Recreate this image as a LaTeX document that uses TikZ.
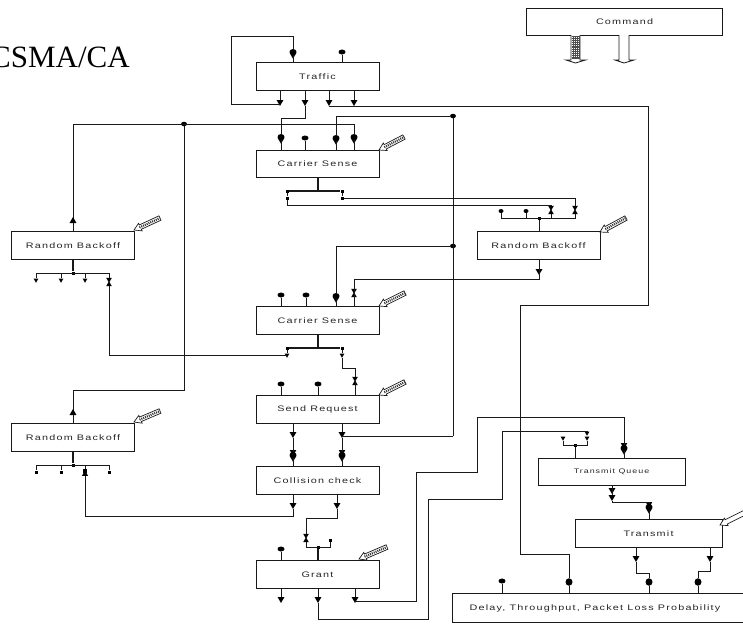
\documentclass[tikz,border=0pt]{standalone}
\usepackage{fontspec}
\usetikzlibrary{shapes.geometric,calc}
\newfontfamily\lblfont[LetterSpace=15,FakeStretch=1.35]{Liberation Sans}
\newfontfamily\ttlfont{Liberation Serif}
\definecolor{ln}{gray}{0.1}
\tikzset{
  wire/.style={draw=ln,line width=1pt},
  thickwire/.style={draw=ln,line width=2pt},
  boxm/.style={draw=ln,line width=1pt,fill=white,inner sep=0,font=\lblfont\fontsize{8}{8}\selectfont,text=black!85},
  wide/.style={boxm,minimum width=123,minimum height=27.5},
  blobm/.style={ellipse,fill=black,inner sep=0,minimum width=7,minimum height=5},
  bigblob/.style={ellipse,fill=black,inner sep=0,minimum width=7,minimum height=6},
  dotm/.style={rectangle,fill=black,inner sep=0,minimum width=3,minimum height=3},
  jdot/.style={ellipse,fill=black,inner sep=0,minimum width=6,minimum height=4.5},
  trid/.style={regular polygon,regular polygon sides=3,shape border rotate=180,fill=black,inner sep=0,minimum size=8},
  triu/.style={regular polygon,regular polygon sides=3,fill=black,inner sep=0,minimum size=8},
  smalld/.style={regular polygon,regular polygon sides=3,shape border rotate=180,fill=black,inner sep=0,minimum size=6.5},
  smallu/.style={regular polygon,regular polygon sides=3,fill=black,inner sep=0,minimum size=6.5},
}
% marker macros: #1 name, #2 position
\newcommand{\mkblob}[2]{\node[blobm] (#1) at (#2) {};}
\newcommand{\mkdown}[2]{\node[trid] (#1) at (#2) {};}
\newcommand{\mkinblob}[2]{\node[bigblob] (#1) at (#2) {};\node[smalld,minimum size=7.5] (#1t) at ($(#1)+(0,3)$) {};}
\newcommand{\mkstack}[2]{\node[bigblob] (#1) at (#2) {};\node[smalld,minimum size=7.5] (#1t) at ($(#1)+(0,3)$) {};\node[smalld,minimum size=7.5] (#1s) at ($(#1)+(0,-3)$) {};}
\newcommand{\mkbow}[2]{\coordinate (#1) at (#2);\node[smalld] (#1a) at ($(#1)+(0,-2.5)$) {};\node[smallu] (#1b) at ($(#1)+(0,2.5)$) {};}
\newcommand{\mkspoke}[2]{\node[smalld,minimum size=5.5] (#1) at (#2) {};}
% parameter tool: #1 name, #2 tip, #3 tail
\newcommand{\mktool}[3]{%
  \coordinate (#1tip) at (#2);\coordinate (#1tail) at (#3);
  \draw[line width=0.7pt,draw=ln,fill=white]
    ($(#1tip)!7pt!(#1tail)!2.4pt!90:(#1tail)$) -- ($(#1tail)!2.4pt!-90:(#1tip)$) -- ($(#1tail)!2.4pt!90:(#1tip)$)
    -- ($(#1tip)!7pt!(#1tail)!2.4pt!-90:(#1tail)$) -- ($(#1tip)!7pt!(#1tail)!4.2pt!-90:(#1tail)$) -- (#1tip)
    -- ($(#1tip)!7pt!(#1tail)!4.2pt!90:(#1tail)$) -- cycle;
  \draw[line width=2.2pt,draw=black!80,dash pattern=on 1pt off 1pt] ($(#1tip)!6pt!(#1tail)$) -- ($(#1tail)!0.6pt!(#1tip)$);
}
\begin{document}
\begin{tikzpicture}[x=1pt,y=-1pt]
\useasboundingbox (0,0) rectangle (743,625);
\node[font=\ttlfont\fontsize{31}{31}\selectfont,anchor=base west,inner sep=0,text=black] (title) at (-10,67) {CSMA/CA};

% ---- boxes ----
\node[boxm,minimum width=196,minimum height=26.5] (command) at (624.5,22) {Command};
\node[wide] (traffic) at (317.5,76.5) {Traffic};
\node[wide] (cs1) at (317.5,164) {Carrier Sense};
\node[wide] (rb1) at (73,245.5) {Random Backoff};
\node[wide] (rbr) at (538.5,245.5) {Random Backoff};
\node[wide] (cs2) at (317.5,320.5) {Carrier Sense};
\node[wide] (send) at (317.5,409.5) {Send Request};
\node[wide] (rb2) at (73,437.5) {Random Backoff};
\node[wide] (coll) at (317.5,480.5) {Collision check};
\node[wide] (grant) at (317.5,574.5) {Grant};
\node[boxm,font=\lblfont\fontsize{6.6}{8}\selectfont,minimum width=147,minimum height=27.5] (tq) at (611.5,472) {Transmit Queue};
\node[boxm,minimum width=147,minimum height=27.5] (tx) at (648.5,533.5) {Transmit};
\node[boxm,draw=none,fill=none,minimum width=290,minimum height=28] (delay) at (598,608) {};
\node[font=\lblfont\fontsize{8}{8}\selectfont,text=black!85,inner sep=0] (delaytxt) at (595,608) {Delay, Throughput, Packet Loss Probability};
\draw[wire] (delay.north east) -- (delay.north west) -- (delay.south west) -- (delay.south east);

% ---- command arrows ----
\coordinate (cmda) at (575.5,35);
\coordinate (cmdb) at (624,35);
\draw[line width=0.8pt,draw=ln,fill=white] (cmda) ++(-4.5,0) -- ++(0,25) -- ++(-5,0) -- (575.5,63) -- (585.5,60) -- ++(-5.5,0) -- ++(0,-25);
\fill[black!70] (571.5,36) rectangle (579.5,59);
\foreach \yy in {37,39.2,...,59}{\draw[white,line width=0.8pt,dash pattern=on 1pt off 1.2pt] (571.5,\yy) -- (579.5,\yy);}
\draw[line width=0.8pt,draw=ln,fill=white] (cmdb) ++(-5,0) -- ++(0,25) -- ++(-4,0) -- (624,63) -- (634,60) -- ++(-5,0) -- ++(0,-25);

% ---- Traffic ports ----
\mkinblob{ta}{293,52}
\mkblob{tb}{342,52}
\mkdown{tc}{280,102}
\mkdown{td}{305,102}
\mkdown{te}{329,102}
\mkdown{tf}{354,102}
\draw[wire] (traffic.north -| ta) -- (ta);
\draw[wire] (traffic.north -| tb) -- (tb);
\foreach \p in {tc,td,te,tf}{\draw[wire] (traffic.south -| \p) -- (\p);}
\draw[wire] (280,104) -- (231,104) -- (231,36) -- (293,36) -- (ta);

% ---- Carrier Sense 1 ----
\mkinblob{ca}{281,137}
\mkblob{cb}{305,138}
\mkinblob{cc}{336,138}
\mkinblob{cd}{354,137}
\foreach \p in {ca,cb,cc,cd}{\draw[wire] (cs1.north -| \p) -- (\p);}
\draw[wire] (td) -- (305,118) -- (281,118) -- (ca);
\coordinate (cjoin) at (318,191);
\draw[thickwire] (cs1.south -| cjoin) -- (cjoin);
\node[dotm] (cl) at (287,191) {};
\node[dotm] (cr) at (342,191) {};
\node[dotm] (cl2) at (287,198) {};
\node[dotm] (cr2) at (342,198) {};
\draw[line width=1.5pt,draw=ln] (cl) -- (cr);
\draw[wire] (cl) -- (cl2);
\draw[wire] (cr) -- (cr2);

% ---- Random Backoff right ----
\node[dotm] (rj) at (539,218) {};
\node[blobm,minimum width=5,minimum height=4] (ra) at (501,211) {};
\node[blobm,minimum width=5,minimum height=4] (rb) at (526,211) {};
\mkbow{rc}{551,210}
\mkbow{rd}{575,210}
\draw[wire] (ra) -- (501,218) -- (575,218) -- (rdb);
\draw[wire] (rb) -- (526,218);
\draw[wire] (rcb) -- (551,218);
\draw[wire] (rbr.north -| rj) -- (rj);
\draw[wire] (cr2) -- (575,198) -- (rda);
\draw[wire] (cl2) -- (287,205) -- (551,205) -- (rca);
\mkdown{rout}{539,271}

% ---- Carrier Sense 2 ----
\mkblob{da}{281,295}
\mkblob{db}{306,295}
\mkinblob{dc}{336,296}
\mkbow{dd}{354,293}
\foreach \p in {da,db,dc,dd}{\draw[wire] (cs2.north -| \p) -- (\p);}
\draw[wire] (rbr.south -| rout) -- (539,279) -- (354,279) -- (dd);
\coordinate (djoin) at (318,348);
\draw[thickwire] (cs2.south -| djoin) -- (djoin);
\node[dotm] (dl) at (287,348) {};
\node[dotm] (dr) at (342,348) {};
\draw[line width=1.5pt,draw=ln] (dl) -- (dr);
\mkspoke{dl2}{287,355}
\mkspoke{dr2}{342,355}
\draw[wire] (dl) -- (dl2);
\draw[wire] (dr) -- (dr2);

% ---- Long bus at x=453 ----
\node[jdot] (bt) at (453,116) {};
\node[jdot] (bm) at (453,246) {};
\coordinate (bb) at (453,436);
\draw[wire] (bt) -- (bb);
\draw[wire] (bt) -- (336,116) -- (cc);
\draw[wire] (bm) -- (336,246) -- (dc);

% ---- Feedback to random backoffs ----
\node[jdot] (fb) at (184,124) {};
\draw[wire] (73,221) -- (73,124) -- (354,124) -- (cd);
\draw[wire] (fb) -- (184,390) -- (73,390) -- (73,413);

% ---- Random Backoff 1 ----
\node[triu] (up1) at (73,221) {};
\draw[wire] (rb1.north) -- (up1);
\node[dotm] (j1) at (73,273) {};
\draw[thickwire] (rb1.south) -- (j1);
\draw[wire] (36,273) -- (109,273);
\mkspoke{s1a}{36,280}
\mkspoke{s1b}{61,280}
\mkspoke{s1c}{85,280}
\mkbow{s1d}{109,282}
\draw[wire] (36,273) -- (s1a);
\draw[wire] (61,273) -- (s1b);
\draw[wire] (85,273) -- (s1c);
\draw[wire] (109,273) -- (s1da);
\draw[wire] (s1db) -- (109,355) -- (dl2.center);

% ---- Send Request ----
\mkblob{sa}{281,384}
\mkblob{sb}{318,384}
\mkbow{sc}{355,381}
\foreach \p in {sa,sb,sc}{\draw[wire] (send.north -| \p) -- (\p);}
\draw[wire] (dr2) -- (342,368) -- (355,368) -- (sca);
\mkdown{se}{293,434}
\mkdown{sf}{342,434}
\draw[wire] (send.south -| se) -- (se);
\draw[wire] (send.south -| sf) -- (sf);
\draw[wire] (342,436) -- (bb);

% ---- Collision check ----
\mkstack{ka}{293,455}
\mkstack{kb}{342,455}
\draw[wire] (se) -- (ka);
\draw[wire] (sf) -- (kb);
\draw[wire] (coll.north -| ka) -- (ka);
\draw[wire] (coll.north -| kb) -- (kb);
\mkdown{kc}{293,505}
\mkdown{kd}{337,505}
\draw[wire] (coll.south -| kc) -- (kc);
\draw[wire] (coll.south -| kd) -- (kd);

% ---- Random Backoff 2 ----
\node[triu] (up2) at (73,413) {};
\draw[wire] (rb2.north) -- (up2);
\node[dotm] (j2) at (73,465) {};
\draw[thickwire] (rb2.south) -- (j2);
\draw[wire] (36,465) -- (109,465);
\node[dotm] (s2a) at (36,472) {};
\node[dotm] (s2b) at (61,472) {};
\node[smallu,minimum size=7] (s2c) at (85,474) {};
\node[dotm,minimum size=4] (s2c2) at (85,471) {};
\node[dotm] (s2d) at (109,472) {};
\draw[wire] (36,465) -- (s2a);
\draw[wire] (61,465) -- (s2b);
\draw[wire] (85,465) -- (s2c2);
\draw[wire] (109,465) -- (s2d);
\draw[wire] (kc) -- (293,516) -- (85,516) -- (s2c);

% ---- Grant ----
\mkbow{ga}{306,538}
\node[dotm] (gb) at (330,540) {};
\node[dotm] (gj) at (318,547) {};
\mkblob{gc}{281,549}
\draw[wire] (grant.north -| gc) -- (gc);
\draw[thickwire] (grant.north -| gj) -- (gj);
\draw[wire] (gab) -- (306,547) -- (330,547) -- (gb);
\draw[wire] (kd) -- (337,518) -- (306,518) -- (gaa);
\mkdown{gd}{281,599}
\mkdown{ge}{318,599}
\mkdown{gf}{355,599}
\draw[wire] (grant.south -| gd) -- (gd);
\draw[wire] (grant.south -| ge) -- (ge);
\draw[wire] (grant.south -| gf) -- (gf);

% ---- Transmit Queue ----
\mkstack{qa}{624,448}
\draw[wire] (tq.north -| qa) -- (qa);
\draw[wire] (355,601) -- (416,601) -- (416,472) -- (477,472) -- (477,417) -- (624,417) -- (qa);
\node[dotm] (qj) at (575,445) {};
\node[smalld,minimum size=5.5] (qb) at (563,438) {};
\node[smalld,minimum size=5.5] (qc) at (587,438) {};
\node[smalld,minimum size=5.5] (qd) at (587,433) {};
\draw[wire] (tq.north -| qj) -- (qj);
\draw[wire] (qb) -- (563,445) -- (587,445) -- (qc);
\draw[wire] (ge) -- (318,619) -- (428,619) -- (428,499) -- (502,499) -- (502,431) -- (587,431) -- (qd);
\mkdown{qe}{612,490}
\mkdown{qf}{612,497}
\draw[wire] (tq.south -| qe) -- (qf);

% ---- Transmit ----
\mkstack{xa}{649,507}
\draw[wire] (tx.north -| xa) -- (xa);
\draw[wire] (qf) -- (612,502) -- (649,502) -- (xa);
\mkdown{xb}{636,558}
\mkdown{xc}{710,558}
\draw[wire] (tx.south -| xb) -- (xb);
\draw[wire] (tx.south -| xc) -- (xc);

% ---- Delay ports ----
\mkblob{ya}{502,581}
\node[bigblob,minimum height=7.5] (yb) at (569,582) {};
\node[bigblob,minimum height=7.5] (yc) at (649,582) {};
\node[bigblob,minimum height=7.5] (yd) at (698,582) {};
\foreach \p in {ya,yb,yc,yd}{\draw[wire] (delay.north -| \p) -- (\p);}
\draw[wire] (xb) -- (636,573) -- (649,573) -- (yc);
\draw[wire] (xc) -- (710,571) -- (698,571) -- (yd);
\draw[wire] (te) -- (329,106) -- (648,106) -- (648,305) -- (520,305) -- (520,554) -- (569,554) -- (yb);

% ---- parameter tools ----
\mktool{u1}{379,150}{404,137}
\mktool{u2}{134,230}{160,218}
\mktool{u3}{600,232}{626,218}
\mktool{u4}{379,306}{405,293}
\mktool{u5}{379,395}{405,382}
\mktool{u6}{134,422}{160,411}
\mktool{u7}{359,559}{387,547}
\coordinate (u8tip) at (720,525);
\coordinate (u8tail) at (750,510);
\draw[line width=0.7pt,draw=ln,fill=white] ($(u8tip)!7pt!(u8tail)!2.4pt!90:(u8tail)$) -- ($(u8tail)!2.4pt!-90:(u8tip)$) -- ($(u8tail)!2.4pt!90:(u8tip)$)
    -- ($(u8tip)!7pt!(u8tail)!2.4pt!-90:(u8tail)$) -- ($(u8tip)!7pt!(u8tail)!4.2pt!-90:(u8tail)$) -- (u8tip)
    -- ($(u8tip)!7pt!(u8tail)!4.2pt!90:(u8tail)$) -- cycle;
\end{tikzpicture}
\end{document}
